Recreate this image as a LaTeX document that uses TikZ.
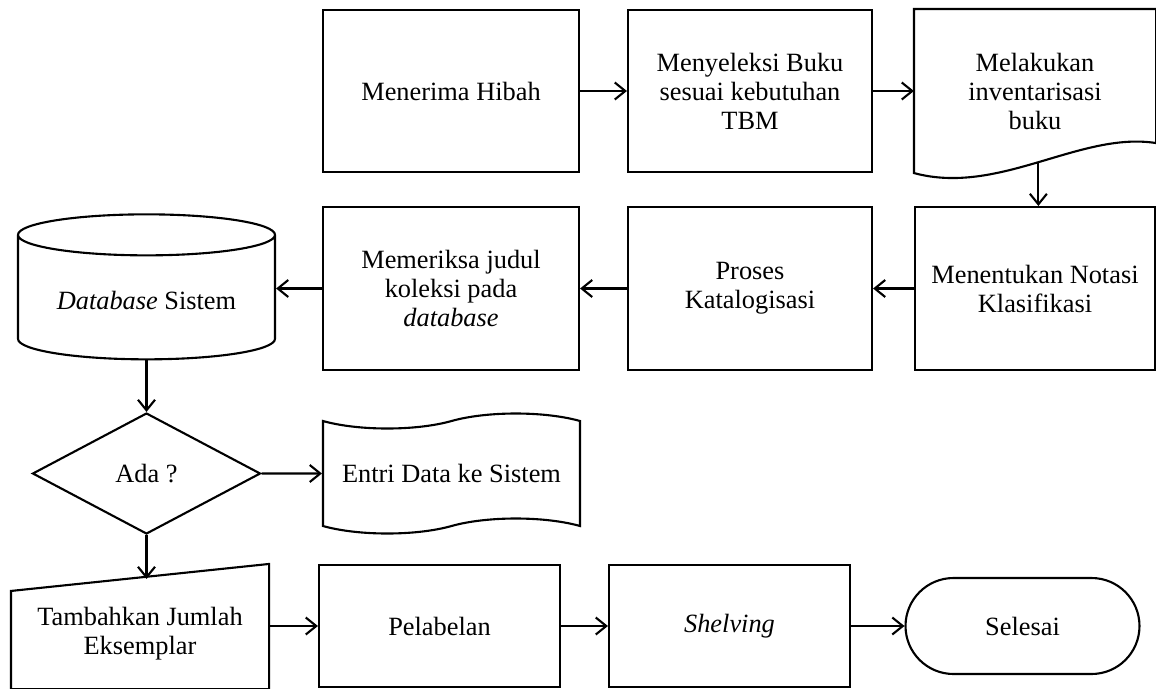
\documentclass[tikz,border=0pt]{standalone}
\usepackage{fontspec}
\setmainfont{Liberation Serif}
\usetikzlibrary{arrows.meta,shapes.geometric,shapes.symbols,shapes.misc}
\begin{document}
\begin{tikzpicture}[line width=1.2pt,
    teks/.style={align=center, inner sep=2pt, font=\fontsize{15}{16.5}\selectfont},
    proses/.style={teks, rectangle, draw},
    dokumen/.style={teks},
    basis/.style={teks, cylinder, draw, shape border rotate=90, aspect=0.22},
    keputusan/.style={teks, diamond, draw, aspect=1.9, inner sep=0pt},
    pita/.style={teks, tape, draw, tape bend top=in and out, tape bend bottom=in and out, tape bend height=0.3cm},
    terminal/.style={teks, rounded rectangle, draw},
    panah/.style={-{Straight Barb[length=2.1mm,width=3.4mm]}}]
  \useasboundingbox (0,0) rectangle (23.12,-13.76);
  \node[proses, minimum width=5.12cm, minimum height=3.24cm] (hibah) at (9.02,-1.82) {Menerima Hibah};
  \node[proses, minimum width=4.88cm, minimum height=3.24cm] (seleksi) at (15.0,-1.82) {Menyeleksi Buku\\sesuai kebutuhan\\TBM};
  \node[dokumen, minimum width=4.8cm, minimum height=3.24cm] (inventaris) at (20.7,-1.82) {Melakukan\\inventarisasi\\buku};
  \draw (inventaris.north west) -- (inventaris.north east) -- ([yshift=0.6cm]inventaris.south east)
    .. controls +(-1.52,0.24) and +(1.7,-0.46) .. (inventaris.south west) coordinate[pos=0.5] (invbawah) -- cycle;
  \node[proses, minimum width=4.8cm, minimum height=3.26cm] (notasi) at (20.7,-5.77) {Menentukan Notasi\\Klasifikasi};
  \node[proses, minimum width=4.88cm, minimum height=3.26cm] (katalog) at (15.0,-5.77) {Proses\\Katalogisasi};
  \node[proses, minimum width=5.12cm, minimum height=3.26cm] (periksa) at (9.02,-5.77) {Memeriksa judul\\koleksi pada\\\textit{database}};
  \node[basis, minimum width=5.14cm, minimum height=2.9cm] (basisdata) at (2.93,-6.0) {\textit{Database} Sistem};
  \node[keputusan, minimum width=4.56cm, minimum height=2.42cm] (ada) at (2.93,-9.47) {Ada ?};
  \node[pita, minimum width=5.14cm, minimum height=2.4cm] (entri) at (9.03,-9.47) {Entri Data ke Sistem};
  \node[teks, minimum width=5.12cm, minimum height=2.16cm] (tambah) at (2.8,-12.68) {Tambahkan Jumlah\\Eksemplar};
  \draw ([yshift=-0.24cm]tambah.north west) -- ([yshift=0.3cm]tambah.north east) -- (tambah.south east) -- (tambah.south west) -- cycle;
  \node[proses, minimum width=4.82cm, minimum height=2.44cm] (label) at (8.79,-12.52) {Pelabelan};
  \node[proses, minimum width=4.82cm, minimum height=2.44cm] (shelving) at (14.59,-12.52) {\textit{Shelving}};
  \node[terminal, minimum width=4.82cm, minimum height=1.92cm] (selesai) at (20.45,-12.52) {Selesai};
  \draw[panah] (hibah) -- (seleksi);
  \draw[panah] (seleksi) -- (inventaris);
  \draw[panah] (invbawah) -- (invbawah |- notasi.north);
  \draw[panah] (notasi) -- (katalog);
  \draw[panah] (katalog) -- (periksa);
  \draw[panah] (periksa.west) -- (periksa.west -| basisdata.east);
  \draw[panah] (basisdata) -- (ada);
  \draw[panah] (ada) -- (entri);
  \draw[panah] (ada.south) -- (ada.south |- tambah.north);
  \draw[panah] (label -| tambah.east) -- (label);
  \draw[panah] (label) -- (shelving);
  \draw[panah] (shelving) -- (selesai);
\end{tikzpicture}
\end{document}
